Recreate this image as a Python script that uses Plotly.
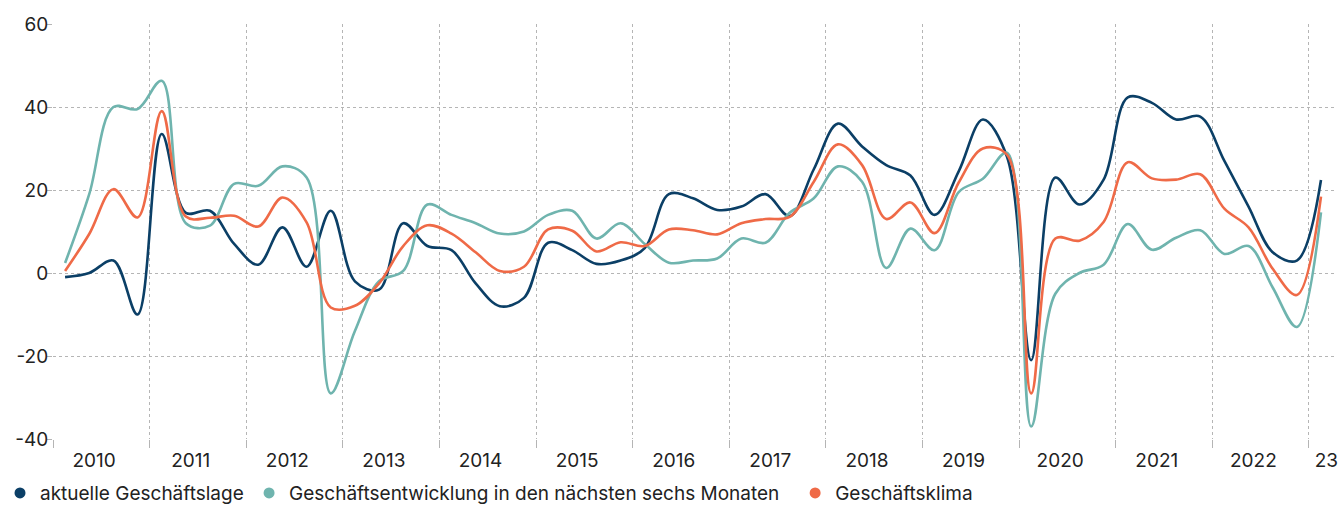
import plotly.graph_objects as go

# Quarterly survey values, 2010 Q1 .. 2023 Q1
quarters = [f"{y}Q{q}" for y in range(2010, 2024) for q in range(1, 5)][:53]

lage = [-1, 0, 3, -10, 33.5, 14.5, 15, 7, 2, 11, 1.5, 15, -2, -4, 12, 6.5,
        5.5, -2.5, -8, -6, 7.3, 5.5, 2.2, 3, 6, 19, 18, 15.2, 16, 19, 13.7, 25,
        36, 30.5, 26, 23.5, 14, 24.5, 37, 28, -21, 23, 16.5, 22.5, 42.3, 41, 37, 37.7,
        27, 16, 5, 3, 22.4]

entwicklung = [2.4, 19, 40, 39.5, 46.3, 12, 11.4, 21.5, 21, 25.7, 23, -29, -14, -2, 0.5, 16.5,
               14, 12, 9.5, 10, 14, 15, 8.3, 12, 7, 2.5, 3, 3.5, 8.3, 7.3, 14.5, 18,
               25.7, 22, 1.2, 10.7, 5.5, 19.5, 22.7, 29, -37, -5, 0, 2, 11.8, 5.6, 8.5, 10.3,
               4.6, 6.5, -3.5, -13, 14.6]

klima = [0.5, 9.4, 20.2, 13.4, 39, 13.6, 13.3, 13.8, 11.2, 18.2, 12.2, -8.3, -7.9, -2.5, 6.5, 11.5,
         9.5, 5, 0.5, 1.5, 10.5, 10.2, 5.2, 7.4, 6.5, 10.5, 10.3, 9.3, 12, 13, 13.5, 22,
         31, 26, 13, 17, 9.6, 21.8, 30, 28.5, -29, 8.3, 7.8, 12.3, 26.7, 22.8, 22.5, 23.8,
         15.5, 11, 1, -5.3, 18.4]

series_names = ["aktuelle Geschäftslage",
                "Geschäftsentwicklung in den nächsten sechs Monaten",
                "Geschäftsklima"]
colors = ["#0b3f66", "#6fb4ae", "#ef6a47"]

year_labels = [str(y) for y in range(2010, 2023)] + ["23"]
year_label_pos = [y + 0.425 for y in range(2010, 2023)] + [2023.18]
year_bounds = list(range(2010, 2024))
y_ticks = [-40, -20, 0, 20, 40, 60]

# x position of each quarter (middle of the quarter)
xq = [int(q[:4]) + (int(q[-1]) - 0.5) / 4 for q in quarters]

FONT = "Inter"
fig = go.Figure()

legend_names = ["legend", "legend2", "legend3"]
for vals, name, col, lg in zip([lage, entwicklung, klima], series_names, colors, legend_names):
    fig.add_trace(go.Scatter(x=xq, y=vals, mode="lines", name=name,
                             line=dict(color=col, width=2.6, shape="spline", smoothing=1.0),
                             showlegend=False, hoverinfo="x+y"))
    fig.add_trace(go.Scatter(x=[None], y=[None], mode="markers", name=name,
                             marker=dict(color=col, size=11), legend=lg))

leg_common = dict(orientation="h", xref="container", yref="paper",
                  xanchor="left", yanchor="bottom", y=-0.176,
                  font=dict(family=FONT, size=19, color="#222"),
                  bgcolor="rgba(0,0,0,0)", borderwidth=0, itemwidth=30)

fig.update_layout(
    width=1342, height=506,
    margin=dict(l=53, r=7, t=24, b=67, autoexpand=False),
    paper_bgcolor="white", plot_bgcolor="white",
    font=dict(family=FONT, size=19, color="#222"),
    legend=dict(x=-0.0201, **leg_common),
    legend2=dict(x=0.1856, **leg_common),
    legend3=dict(x=0.5925, **leg_common),
    xaxis=dict(range=[2010, 2023.27], tickvals=year_label_pos, ticktext=year_labels,
               automargin=False,
               showgrid=False, zeroline=False, showline=False, ticks="",
               ticklabelstandoff=8,
               tickfont=dict(family=FONT, size=19, color="#222"),
               minor=dict(tickvals=year_bounds, showgrid=True, gridcolor="#b5b5b5",
                          griddash="dot", gridwidth=1, ticks="outside", ticklen=8,
                          tickcolor="#b5b5b5", tickwidth=1)),
    yaxis=dict(range=[-40, 60], tickvals=y_ticks, ticktext=[str(t) for t in y_ticks],
               automargin=False,
               showgrid=True, gridcolor="#b5b5b5", griddash="dot", gridwidth=1,
               zeroline=False, showline=False, ticks="outside", ticklen=5,
               tickcolor="#b5b5b5", tickwidth=1, ticklabelstandoff=-5,
               tickfont=dict(family=FONT, size=19, color="#222")),
)

# remove the browser's default 8px page margin so the figure fills the window
fig.write_html("out.html", config={"displayModeBar": False},
               post_script="document.body.style.margin='0';")
